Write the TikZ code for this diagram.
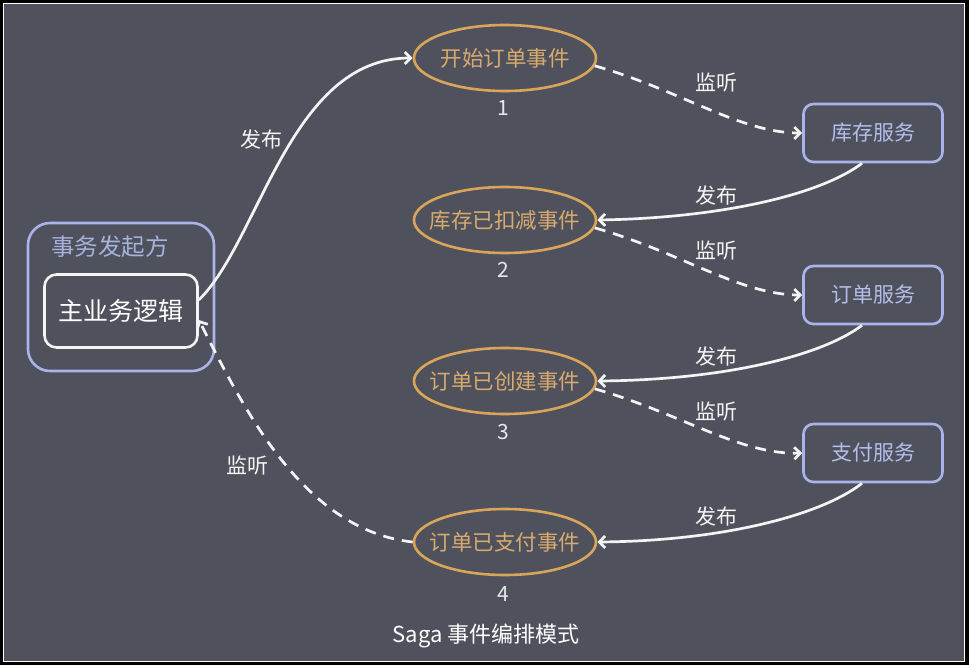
\documentclass[tikz,border=0pt]{standalone}
\usepackage{fontspec}
\setmainfont{Noto Sans CJK SC}
\usetikzlibrary{shapes.geometric,arrows.meta}
\definecolor{bg}{HTML}{4F525D}
\definecolor{lav}{HTML}{AAB4EB}
\definecolor{lavtext}{HTML}{B4BEEA}
\definecolor{hdrtext}{HTML}{A5B3DC}
\definecolor{gold}{HTML}{D9A55B}
\definecolor{goldtext}{HTML}{D8AA6E}
\definecolor{wline}{HTML}{F4F4F4}
\definecolor{numc}{HTML}{E6E8EE}
\tikzset{
  evt/.style={ellipse, draw=gold, line width=2.6pt, minimum width=182pt, minimum height=66pt, inner sep=0pt},
  evttext/.style={text=goldtext, font=\fontsize{21.5}{24}\selectfont, inner sep=0pt},
  svc/.style={rounded corners=10pt, draw=lav, line width=2.6pt, minimum width=139pt, minimum height=58pt, inner sep=0pt, text=lavtext, font=\fontsize{21}{24}\selectfont},
  num/.style={text=numc, font=\fontsize{21}{24}\selectfont},
  lbl/.style={text=wline, font=\fontsize{21}{24}\selectfont},
  pub/.style={draw=wline, line width=2.7pt, -{Straight Barb[length=6pt,width=12pt]}},
  lis/.style={draw=wline, line width=2.7pt, dash pattern=on 11pt off 8pt, -{Straight Barb[length=6pt,width=12pt]}}
}
\begin{document}
\begin{tikzpicture}[x=1pt,y=-1pt]
\useasboundingbox (0,0) rectangle (969,665);
\fill[black] (0,0) rectangle (969,665);
\filldraw[fill=bg, draw=white, line width=1.2pt] (3.6,3.6) rectangle (964.4,661.4);

% initiator
\node[draw=lav, line width=2.6pt, rounded corners=22pt, minimum width=186pt, minimum height=148pt, inner sep=0pt] (init) at (121,297) {};
\node[text=hdrtext, font=\fontsize{23.5}{26}\selectfont] (hdr) at (110,247) {事务发起方};
\node[draw=wline, line width=2.6pt, rounded corners=12pt, minimum width=153pt, minimum height=73pt, inner sep=0pt, text=white, font=\fontsize{25}{28}\selectfont] (m) at (121,311) {主业务逻辑};

% events
\node[evt] (e1) at (505,58) {};
\node[evt] (e2) at (505,220) {};
\node[evt] (e3) at (505,381) {};
\node[evt] (e4) at (505,542) {};
\node[evttext] (t1) at (e1) {开始订单事件};
\node[evttext] (t2) at (e2) {库存已扣减事件};
\node[evttext] (t3) at (e3) {订单已创建事件};
\node[evttext] (t4) at (e4) {订单已支付事件};
\node[num] (n1) at (503,108) {1};
\node[num] (n2) at (503,270) {2};
\node[num] (n3) at (503,432) {3};
\node[num] (n4) at (503,594) {4};

% services
\node[svc] (s1) at (873,133) {库存服务};
\node[svc] (s2) at (873,295) {订单服务};
\node[svc] (s3) at (873,453) {支付服务};

% connectors
\draw[pub] ([yshift=11pt]m.east) .. controls (260,240) and (290,58) .. (e1.west);
\draw[lis] (e1.-5) .. controls (680,90) and (740,133) .. (s1.west);
\draw[pub] ([xshift=-11pt]s1.south) .. controls (820,195) and (720,218) .. (e2.east);
\draw[lis] (e2.-5) .. controls (680,252) and (740,295) .. (s2.west);
\draw[pub] ([xshift=-11pt]s2.south) .. controls (820,357) and (720,380) .. (e3.east);
\draw[lis] (e3.-5) .. controls (680,413) and (740,455) .. (s3.west);
\draw[pub] ([xshift=-11pt]s3.south) .. controls (820,516) and (720,541) .. (e4.east);
\draw[lis] (e4.west) .. controls (300,530) and (240,400) .. ([yshift=-9pt]m.east);

% labels
\node[lbl] (l0) at (261,140) {发布};
\node[lbl] (l1) at (716,83) {监听};
\node[lbl] (l2) at (716,196) {发布};
\node[lbl] (l3) at (716,251) {监听};
\node[lbl] (l4) at (716,357) {发布};
\node[lbl] (l5) at (716,412) {监听};
\node[lbl] (l6) at (716,516) {发布};
\node[lbl] (l7) at (247,466) {监听};
\node[text=white, font=\fontsize{22}{26}\selectfont] (title) at (486,636) {Saga 事件编排模式};
\end{tikzpicture}
\end{document}
